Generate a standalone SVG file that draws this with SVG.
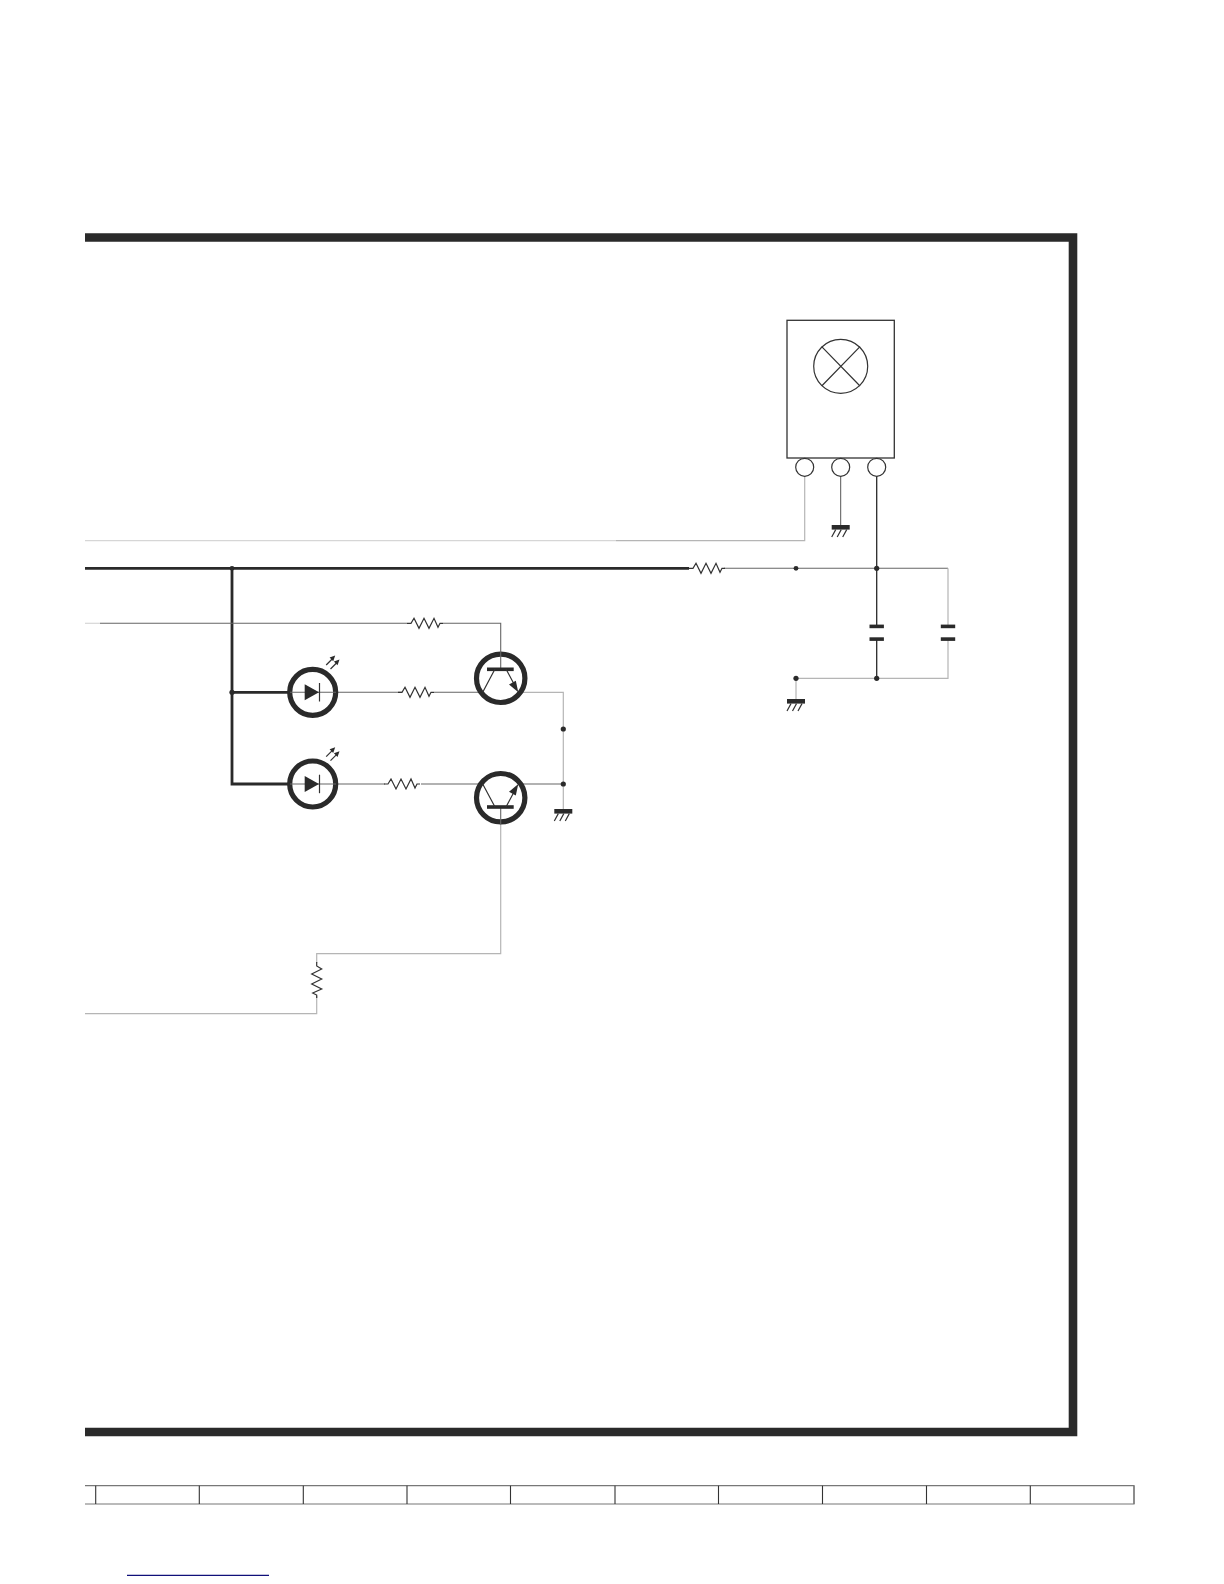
<svg xmlns="http://www.w3.org/2000/svg" width="1224" height="1584" viewBox="0 0 1224 1584">
<style>
.w{fill:none;stroke:#666;stroke-width:1.1}
.lg{fill:none;stroke:#b5b5b5;stroke-width:1.2}
.vl{fill:none;stroke:#d6d6d6;stroke-width:1.2}
.dk{fill:none;stroke:#2a2a2a;stroke-width:1.3}
.md{fill:none;stroke:#555;stroke-width:1}
.th{fill:none;stroke:#2a2a2a;stroke-width:2.8}
.r{fill:none;stroke:#333;stroke-width:1.2}
.ring{fill:#fff;stroke:#2a2a2a;stroke-width:5.2}
.pin{fill:#fff;stroke:#333;stroke-width:1.2}
.bar{fill:#2a2a2a}
.dot{fill:#2a2a2a}
.tb{fill:none;stroke:#777;stroke-width:1.2}
.tv{stroke:#333;stroke-width:1.1}
</style>
<defs>
<path id="zz" class="r" d="M0 0H4L7 -5L12 5L17 -5L22 5L27 -5L31 4L33 0H36"/>
<g id="gnd"><rect class="bar" x="-9" y="0" width="18" height="4.6"/><path class="r" d="M-5 4.6L-9 12M0.5 4.6L-3.5 12M6 4.6L2 12"/></g>
<g id="pa"><path class="r" d="M0 0L7 -7"/><path class="bar" d="M9 -9.5L3.4 -7.4L7 -3.8Z"/></g>
</defs>
<path id="frame" d="M85 237.5H1073V1432H85" fill="none" stroke="#2a2a2a" stroke-width="8.6"/>
<g id="connectors">
<path class="vl" d="M85 540.7H616"/>
<path class="lg" d="M616 540.7H804.7V476"/>
<path class="th" d="M85 568.3H689"/>
<path class="w" d="M724 568.3H876.7"/>
<path class="dk" d="M876.7 476V626M876.7 639V678.3"/>
<path class="w" d="M876.7 568.3H948"/>
<path class="lg" d="M948 568.3V626M948 639V678.3H876.7"/>
<path class="lg" d="M876.7 678.3H796V701"/>
<path class="md" d="M840.7 476V525"/>
<path class="th" d="M232 568.3V784H290M232 692.3H290"/>
<path class="vl" d="M85 623.3H100"/>
<path class="w" d="M100 623.3H407M443 623.3H500.7V651"/>
<path class="w" d="M338 692.3H402M434 692.3H482.7"/>
<path class="w" d="M338 784H385M421 784H482.7"/>
<path class="lg" d="M518.3 692.3H563.3V810"/>
<path class="w" d="M518.3 784H563.3"/>
<path class="lg" d="M500.7 824V953.7H316.7V963M316.7 996V1013.7H85"/>
</g>
<g id="r1"><use href="#zz" transform="translate(689 568.3)"/></g>
<g id="r2"><use href="#zz" transform="translate(407 623.3)"/></g>
<g id="r3"><use href="#zz" transform="translate(398 692.3)"/></g>
<g id="r4"><use href="#zz" transform="translate(384 784)"/></g>
<g id="r5"><use href="#zz" transform="translate(316.7 962) rotate(90)"/></g>
<g id="ir-block">
<rect x="787" y="320.3" width="107.3" height="137.7" fill="#fff" stroke="#333" stroke-width="1.3"/>
<circle class="pin" cx="840.7" cy="366.3" r="27"/>
<path class="r" d="M821.7 346.7L860 386M860 346.7L821.7 386"/>
<circle class="pin" cx="804.7" cy="467.3" r="9"/>
<circle class="pin" cx="840.7" cy="467.3" r="9"/>
<circle class="pin" cx="876.7" cy="467.3" r="9"/>
</g>
<g id="gnd1"><use href="#gnd" transform="translate(840.7 525)"/></g>
<g id="gnd2"><use href="#gnd" transform="translate(796 699)"/></g>
<g id="gnd3"><use href="#gnd" transform="translate(563.3 809)"/></g>
<g id="c1"><rect class="bar" x="869.5" y="624.6" width="14.4" height="3.6"/><rect class="bar" x="869.5" y="637.3" width="14.4" height="3.6"/></g>
<g id="c2"><rect class="bar" x="940.8" y="624.6" width="14.4" height="3.6"/><rect class="bar" x="940.8" y="637.3" width="14.4" height="3.6"/></g>
<g id="led1">
<circle class="ring" cx="312.7" cy="692.3" r="23"/>
<path class="w" d="M290 692.3H336"/>
<path class="bar" d="M304.7 684.3L319 692.3L304.7 700.3Z"/>
<path class="r" d="M319.5 683V701.5"/>
<use href="#pa" transform="translate(326.2 665)"/>
<use href="#pa" transform="translate(330.5 669)"/>
</g>
<g id="led2">
<circle class="ring" cx="312.7" cy="784" r="23"/>
<path class="w" d="M290 784H336"/>
<path class="bar" d="M304.7 776L319 784L304.7 792Z"/>
<path class="r" d="M319.5 774.7V793.2"/>
<use href="#pa" transform="translate(326.2 756.7)"/>
<use href="#pa" transform="translate(330.5 760.7)"/>
</g>
<g id="q1">
<circle class="ring" cx="500.7" cy="678.3" r="24.2"/>
<path class="w" d="M500.7 651V669"/>
<rect class="bar" x="487" y="667.5" width="26.7" height="3.6"/>
<path class="r" d="M495 669L482.7 692.3M506 669L514 684"/>
<path class="bar" d="M518.3 692.3L509 684.5L515.8 680.8Z"/>
</g>
<g id="q2">
<circle class="ring" cx="500.7" cy="797.7" r="24.2"/>
<path class="w" d="M500.7 807V824"/>
<rect class="bar" x="487" y="805.2" width="26.7" height="3.6"/>
<path class="r" d="M495 807L482.7 784M506 807L514 792"/>
<path class="bar" d="M518.3 784L509 791.8L515.8 795.5Z"/>
</g>
<g id="dots">
<circle class="dot" cx="232" cy="568.3" r="2.4"/>
<circle class="dot" cx="232" cy="692.3" r="2.6"/>
<circle class="dot" cx="796" cy="568.3" r="2.4"/>
<circle class="dot" cx="876.7" cy="568.3" r="2.6"/>
<circle class="dot" cx="876.7" cy="678.3" r="2.6"/>
<circle class="dot" cx="796" cy="678.3" r="2.6"/>
<circle class="dot" cx="563.3" cy="729" r="2.6"/>
<circle class="dot" cx="563.3" cy="784" r="2.6"/>
</g>
<g id="strip">
<path class="tb" d="M85 1485.7H1134V1504H85"/>
<path class="tb" d="M1134 1485.7V1504"/>
<path class="tv" d="M95.7 1485.7V1504M199.3 1485.7V1504M303.3 1485.7V1504M407 1485.7V1504M510.5 1485.7V1504M615 1485.7V1504M718.5 1485.7V1504M822.5 1485.7V1504M926.5 1485.7V1504M1030.3 1485.7V1504"/>
</g>
<path id="rule" d="M127 1575.3H269" fill="none" stroke="#10107a" stroke-width="1.2"/>
</svg>
